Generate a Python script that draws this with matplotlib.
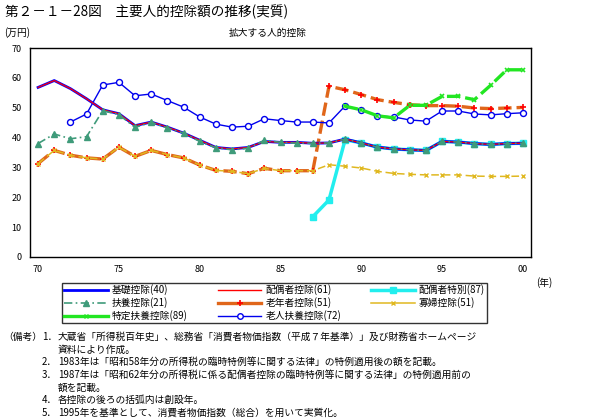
import matplotlib
matplotlib.use("Agg")
import matplotlib.pyplot as plt
from matplotlib.lines import Line2D

plt.rcParams["font.family"] = ["Noto Sans CJK JP", "DejaVu Sans"]
plt.rcParams["axes.unicode_minus"] = False

W, H = 610, 419

years = list(range(1970, 2001))

basic = [56.8, 59.1, 56.4, 53.0, 49.3, 48.0, 44.0, 45.2, 43.5, 41.5,
         39.1, 36.7, 36.2, 36.7, 38.7, 38.4, 38.4, 38.1, 38.2, 39.5,
         38.2, 36.8, 36.2, 35.9, 35.7, 38.7, 38.5, 38.0, 37.7, 38.0, 38.1]
spouse = [56.8, 59.1, 56.4, 53.0, 49.3, 48.0, 44.0, 45.2, 43.5, 41.5,
          39.1, 36.7, 36.2, 36.7, 38.7, 38.4, 38.4, 38.1, 38.2, 39.5,
          38.2, 36.8, 36.2, 35.9, 35.7, 38.7, 38.5, 38.0, 37.7, 38.0, 38.1]
dependent = [38.0, 41.2, 39.6, 40.3, 49.0, 47.7, 43.4, 45.1, 43.2, 41.5,
             38.7, 36.6, 35.9, 36.4, 39.1, 38.4, 38.1, 38.1, 38.2, 39.5,
             38.2, 36.8, 36.2, 35.9, 35.7, 38.7, 38.5, 38.0, 37.7, 38.0, 38.1]
widow = [31.3, 35.7, 34.1, 33.2, 32.8, 36.8, 33.7, 35.7, 34.3, 33.2,
         30.8, 29.0, 28.7, 27.9, 29.7, 28.9, 28.9, 28.9, 30.9, 30.4,
         29.8, 28.7, 28.0, 27.7, 27.5, 27.5, 27.5, 27.1, 27.0, 27.0, 27.1]
aged = [31.3, 35.7, 34.1, 33.2, 32.8, 36.8, 33.7, 35.7, 34.3, 33.2,
        30.8, 29.0, 28.7, 27.9, 29.7, 28.9, 28.9, 28.9, 57.2, 56.0,
        54.4, 52.7, 51.8, 51.0, 50.7, 50.7, 50.5, 49.9, 49.7, 49.9, 50.1]

elderly_years = list(range(1972, 2001))
elderly_dep = [45.2, 47.9, 57.6, 58.5, 54.0, 54.6, 52.4, 50.2,
               46.9, 44.5, 43.5, 43.8, 46.3, 45.7, 45.2, 45.2, 44.9, 50.6,
               49.3, 47.3, 46.9, 45.9, 45.5, 48.9, 48.9, 47.9, 47.6, 48.0, 48.3]

sp_special_years = list(range(1987, 2001))
sp_special = [13.5, 19.1, 39.3, 38.2, 36.8, 36.2, 35.9, 35.7, 38.7, 38.5,
              38.0, 37.7, 38.0, 38.1]

specific_years = list(range(1989, 2001))
specific = [50.5, 49.3, 47.3, 46.6, 50.8, 50.8, 53.8, 53.8, 52.7, 57.5, 62.7, 62.7]

xticks = [1970, 1975, 1980, 1985, 1990, 1995, 2000]
xticklabels = ["70", "75", "80", "85", "90", "95", "00"]

notes = [
    ("（備考）", "1．", "大蔵省「所得税百年史」、総務省「消費者物価指数（平成７年基準）」及び財務省ホームページ"),
    ("", "", "資料により作成。"),
    ("", "2．", "1983年は「昭和58年分の所得税の臨時特例等に関する法律」の特例適用後の額を記載。"),
    ("", "3．", "1987年は「昭和62年分の所得税に係る配偶者控除の臨時特例等に関する法律」の特例適用前の"),
    ("", "", "額を記載。"),
    ("", "4．", "各控除の後ろの括弧内は創設年。"),
    ("", "5．", "1995年を基準として、消費者物価指数（総合）を用いて実質化。"),
]


def fx(px):
    return px / W


def fy(py):
    return 1 - py / H


fig = plt.figure(figsize=(W / 100, H / 100), dpi=100)
ax = fig.add_axes([fx(30), fy(257), fx(531) - fx(30), fy(48) - fy(257)])

c_orange = "#e0661a"
c_gold = "#e0b820"
c_teal = "#3f9b7a"
c_green = "#22e622"

ax.plot(years, aged, color=c_orange, lw=2.4, ls=(0, (4, 1.5)), marker="+",
        ms=5, mec="red", mew=1.2, zorder=2)
ax.plot(years, widow, color=c_gold, lw=1.1, ls=(0, (5, 2.5)), marker="x",
        ms=3.2, mec=c_gold, mew=1, zorder=3)
ax.plot(elderly_years, elderly_dep, color="#0000ee", lw=1, marker="o", ms=4.3,
        mfc="white", mec="#0000ee", mew=1, zorder=4)
ax.plot(specific_years, specific, color=c_green, lw=2.4, ls=(0, (4, 1.5)),
        marker="x", ms=3.5, mec=c_green, mew=1.2, zorder=5)
ax.plot(sp_special_years, sp_special, color="#22eeee", lw=2.5, marker="s",
        ms=4.5, zorder=6)
ax.plot(years, basic, color="#0000ff", lw=2, zorder=7)
ax.plot(years, spouse, color="red", lw=0.9, zorder=8)
ax.plot(years, dependent, color=c_teal, lw=1.2, ls=(0, (5, 2, 1, 2)),
        marker="^", ms=5, mec=c_teal, zorder=9)

ax.set_xlim(1969.5, 2000.5)
ax.set_ylim(0, 70)
ax.set_yticks(range(0, 71, 10))
ax.set_xticks(xticks)
ax.set_xticklabels(xticklabels)
ax.tick_params(length=0, labelsize=6.5, pad=6)
for s in ax.spines.values():
    s.set_linewidth(1)

fig.text(fx(5), fy(12), "第２－１－28図　主要人的控除額の推移(実質)",
         fontsize=9.8, va="center", ha="left")
fig.text(fx(4), fy(33), "(万円)", fontsize=7, va="center", ha="left")
fig.text(fx(268), fy(33), "拡大する人的控除", fontsize=7, va="center", ha="center")
fig.text(fx(544), fy(283), "(年)", fontsize=7, va="center", ha="center")

handles = [
    Line2D([], [], color="#0000ff", lw=2),
    Line2D([], [], color=c_teal, lw=1.2, ls=(0, (5, 2, 1, 2)), marker="^",
           ms=4.5, mec=c_teal),
    Line2D([], [], color=c_green, lw=2.4, marker="x", ms=3.5, mec=c_green),
    Line2D([], [], color="red", lw=1),
    Line2D([], [], color=c_orange, lw=2.4, marker="+", ms=5, mec="red", mew=1.2),
    Line2D([], [], color="#0000ee", lw=1, marker="o", ms=4, mfc="white",
           mec="#0000ee"),
    Line2D([], [], color="#22eeee", lw=2.5, marker="s", ms=4),
    Line2D([], [], color=c_gold, lw=1.1, marker="x", ms=3.2, mec=c_gold),
]
labels = ["基礎控除(40)", "扶養控除(21)", "特定扶養控除(89)",
          "配偶者控除(61)", "老年者控除(51)", "老人扶養控除(72)",
          "配偶者特別(87)", "寡婦控除(51)"]
leg = fig.legend(handles, labels, ncol=3, loc="upper left",
                 bbox_to_anchor=(fx(62), fy(283), fx(487) - fx(62), 0.001),
                 mode="expand", fontsize=7, frameon=True, fancybox=False,
                 handlelength=4.5, handletextpad=0.4, borderpad=0.2,
                 labelspacing=0.2, columnspacing=1.5, borderaxespad=0)
leg.get_frame().set_edgecolor("black")
leg.get_frame().set_linewidth(1)

y0 = 337
for i, (a, b, c) in enumerate(notes):
    y = y0 + i * 12.6
    if a:
        fig.text(fx(3), fy(y), a, fontsize=7, va="center", ha="left")
    if b:
        fig.text(fx(42), fy(y), b, fontsize=7, va="center", ha="left")
    fig.text(fx(58), fy(y), c, fontsize=7, va="center", ha="left")

fig.savefig("out.png", dpi=100, facecolor="white")
